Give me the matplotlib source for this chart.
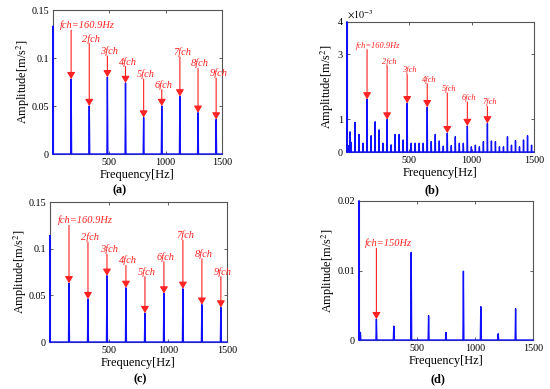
import numpy as np
import matplotlib
matplotlib.use('Agg')
import matplotlib.pyplot as plt

plt.rcParams['font.family'] = ['Liberation Serif', 'DejaVu Serif']
plt.rcParams['mathtext.fontset'] = 'stix'

# ---- data ----
fch = 160.9
orders = np.arange(1, 10)

# (a) spectrum, harmonics of fch
amp_a = [0.078, 0.050, 0.080, 0.074, 0.038, 0.050, 0.060, 0.043, 0.036]
dc_a = 0.133
arrow_top_a = [0.129, 0.115, 0.102, 0.091, 0.078, 0.067, 0.101, 0.089, 0.079]

# (c) spectrum, harmonics of fch
amp_c = [0.063, 0.046, 0.071, 0.058, 0.031, 0.052, 0.057, 0.040, 0.037]
dc_c = 0.114
arrow_top_c = [0.125, 0.107, 0.094, 0.082, 0.070, 0.086, 0.109, 0.089, 0.070]

# (b) spectrum (x1e-3), lines every fch/5
amp_b = [0.30, 0.91, 0.54, 0.27, 1.62, 0.50, 0.93, 0.68, 0.27, 1.00,
         0.22, 0.54, 0.54, 0.37, 1.50, 0.27, 0.27, 0.27, 0.27, 1.38,
         0.32, 0.54, 0.34, 0.18, 0.58, 0.20, 0.47, 0.27, 0.27, 0.80,
         0.16, 0.21, 0.16, 0.32, 0.88, 0.34, 0.32, 0.16, 0.16, 0.47,
         0.21, 0.35, 0.16, 0.37, 0.50, 0.21]
low_freq_b = [8, 24]
low_amp_b = [0.20, 0.62]
dc_b = 4.0
arrow_top_b = [3.15, 2.65, 2.39, 2.10, 1.82, 1.54, 1.40]

# (d) spectrum
freq_d = [0, 12, 150, 300, 450, 600, 750, 900, 1050, 1200, 1350]
amp_d = [0.020, 0.0011, 0.0030, 0.0020, 0.0126, 0.0035, 0.0011, 0.0099,
         0.0048, 0.0009, 0.0045]
arrow_top_d = 0.0132

labels = ['fch=160.9Hz'] + ['%dfch' % k for k in orders[1:]]
red = '#ff2222'
blue = '#1010ff'


def spectrum_line(freqs, amps, half_width=4.0):
    xs, ys = [0.0], [0.0]
    for f, a in sorted(zip(freqs, amps)):
        w = half_width if f > 0 else 0.0
        xs += [f - w, f, f + w]
        ys += [0.0, a, 0.0]
    xs.append(1500.0)
    ys.append(0.0)
    return np.array(xs), np.array(ys)


def style_axes(ax, yticks, yticklabels, ymax, ypad):
    ax.set_xlim(0, 1500)
    ax.set_ylim(0, ymax)
    ax.set_xticks([500, 1000, 1500])
    ax.set_xticklabels(['500', '1000', '1500'])
    ax.set_yticks(yticks)
    ax.set_yticklabels(yticklabels)
    ax.tick_params(direction='in', top=True, right=True, length=2.5,
                   width=0.6, color='#444444', labelsize=7.3, pad=3)
    for s in ax.spines.values():
        s.set_color('#555555')
        s.set_linewidth(0.8)
    ax.set_xlabel('Frequency[Hz]', fontsize=8.8, labelpad=1.5)
    ax.set_ylabel('Amplitude[m/s$^2$]', fontsize=8.8, labelpad=ypad)


def add_arrows(ax, freqs, amps, tops, names, fsize):
    for i, (f, a, t, name) in enumerate(zip(freqs, amps, tops, names)):
        ax.annotate('', xy=(f, a), xytext=(f, t),
                    arrowprops=dict(arrowstyle='-|>,head_width=0.3,head_length=0.5',
                                    color=red, lw=0.8, mutation_scale=8,
                                    shrinkA=0, shrinkB=0), zorder=4)
        if i == 0:
            ax.annotate(name, xy=(f, t), xytext=(-8, 1.5),
                        textcoords='offset points', ha='left', va='baseline',
                        color=red, fontsize=fsize, style='italic')
        else:
            ax.annotate(name, xy=(f, t), xytext=(1.5, 1.5),
                        textcoords='offset points', ha='center', va='baseline',
                        color=red, fontsize=fsize, style='italic')


fig = plt.figure(figsize=(5.5, 3.89), dpi=100)
ax_a = fig.add_axes([53 / 550, 1 - 154 / 389, 169 / 550, 144 / 389])
ax_b = fig.add_axes([347 / 550, 1 - 152 / 389, 187 / 550, 130 / 389])
ax_c = fig.add_axes([50 / 550, 1 - 342 / 389, 177 / 550, 140 / 389])
ax_d = fig.add_axes([359 / 550, 1 - 340 / 389, 174 / 550, 139 / 389])

# (a)
freq_a = list(orders * fch)
x, y = spectrum_line([0] + freq_a, [dc_a] + amp_a)
ax_a.plot(x, y, color=blue, lw=1.0, zorder=3, clip_on=False)
style_axes(ax_a, [0, 0.05, 0.1, 0.15], ['0', '0.05', '0.1', '0.15'], 0.15, -0.5)
add_arrows(ax_a, freq_a, amp_a, arrow_top_a, labels, 7.5)

# (b)
freq_b = list(np.arange(1, len(amp_b) + 1) * fch / 5)
x, y = spectrum_line([0] + low_freq_b + freq_b, [dc_b] + low_amp_b + amp_b, 2.0)
ax_b.plot(x, y, color=blue, lw=1.0, zorder=3, clip_on=False)
style_axes(ax_b, [0, 1, 3, 4], ['0', '1', '3', '4'], 4, 1.0)
harm_b = [freq_b[5 * k - 1] for k in range(1, 8)]
harm_amp_b = [amp_b[5 * k - 1] for k in range(1, 8)]
add_arrows(ax_b, harm_b, harm_amp_b, arrow_top_b, labels[:7], 6.0)
ax_b.text(0.0, 1.01, r'$\times10^{-3}$', transform=ax_b.transAxes,
          fontsize=7.3, ha='left', va='bottom')

# (c)
x, y = spectrum_line([0] + freq_a, [dc_c] + amp_c)
ax_c.plot(x, y, color=blue, lw=1.0, zorder=3, clip_on=False)
style_axes(ax_c, [0, 0.05, 0.1, 0.15], ['0', '0.05', '0.1', '0.15'], 0.15, -0.5)
add_arrows(ax_c, freq_a, amp_c, arrow_top_c, labels, 7.5)

# (d)
x, y = spectrum_line(freq_d, amp_d)
ax_d.plot(x, y, color=blue, lw=1.0, zorder=3, clip_on=False)
style_axes(ax_d, [0, 0.01, 0.02], ['0', '0.01', '0.02'], 0.02, 0.5)
add_arrows(ax_d, [150], [amp_d[2]], [arrow_top_d], ['fch=150Hz'], 7.5)

fig.text(120 / 550, 1 - 190 / 389, '(a)', fontsize=8.8, fontweight='bold', ha='center', va='center')
fig.text(432 / 550, 1 - 190 / 389, '(b)', fontsize=8.8, fontweight='bold', ha='center', va='center')
fig.text(140 / 550, 1 - 379 / 389, '(c)', fontsize=8.8, fontweight='bold', ha='center', va='center')
fig.text(438 / 550, 1 - 379 / 389, '(d)', fontsize=8.8, fontweight='bold', ha='center', va='center')

fig.savefig('out.png', dpi=100)
